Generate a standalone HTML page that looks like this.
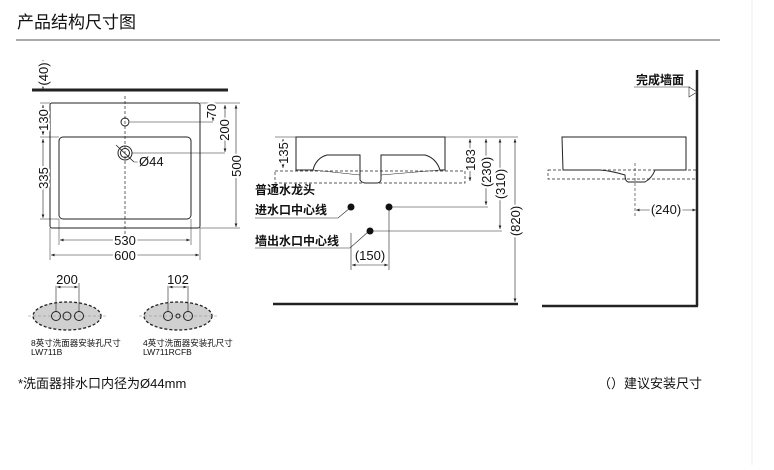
<!DOCTYPE html>
<html><head><meta charset="utf-8"><style>
body{margin:0;background:#fff;}
svg text{font-family:"Liberation Sans","Noto Sans CJK SC",sans-serif;fill:#111;}
.h{stroke:#fff;stroke-width:4;paint-order:stroke;stroke-linejoin:round;}
</style></head><body>
<svg width="774" height="465" viewBox="0 0 774 465" xmlns="http://www.w3.org/2000/svg">
<defs>
<marker id="a" viewBox="0 0 10 10" refX="10" refY="5" markerWidth="6" markerHeight="6" orient="auto-start-reverse"><path d="M0,1 L10,5 L0,9 z" fill="#222"/></marker>
</defs>
<text x="17" y="28" font-size="17">产品结构尺寸图</text>
<line x1="16" y1="40" x2="720" y2="40" stroke="#555" stroke-width="1"/>
<line x1="752" y1="0" x2="752" y2="465" stroke="#eee"/>

<g stroke="#222" fill="none" stroke-width="1">
<line x1="32" y1="90" x2="228" y2="90" stroke-width="3"/>
<rect x="50" y="103" width="150" height="125" rx="2"/>
<rect x="59" y="137" width="132" height="82" rx="4"/>
<line x1="125" y1="96" x2="125" y2="246" stroke-dasharray="3,2" stroke-width="0.7"/>
<circle cx="125" cy="122" r="4"/>
<circle cx="125" cy="153" r="7"/><circle cx="125" cy="153" r="4.5"/>
<line x1="116" y1="145" x2="134" y2="162" stroke-width="0.8"/>
<line x1="130" y1="122" x2="213" y2="122" stroke-width="0.5"/>
<line x1="132" y1="153" x2="225" y2="153" stroke-width="0.5"/>
<line x1="134" y1="162" x2="165" y2="162" stroke-width="0.6"/>
<line x1="43" y1="60" x2="43" y2="89" stroke-width="0.6" marker-end="url(#a)"/>
<line x1="43" y1="105" x2="43" y2="135" stroke-width="0.6" marker-start="url(#a)" marker-end="url(#a)"/>
<line x1="43" y1="139" x2="43" y2="218" stroke-width="0.6" marker-start="url(#a)" marker-end="url(#a)"/>
<line x1="40" y1="103" x2="50" y2="103" stroke-width="0.5"/>
<line x1="40" y1="137" x2="59" y2="137" stroke-width="0.5"/>
<line x1="40" y1="219" x2="59" y2="219" stroke-width="0.5"/>
<line x1="200" y1="103" x2="240" y2="103" stroke-width="0.5"/>
<line x1="200" y1="228" x2="240" y2="228" stroke-width="0.5"/>
<line x1="213" y1="105" x2="213" y2="121" stroke-width="0.6" marker-start="url(#a)" marker-end="url(#a)"/>
<line x1="225" y1="105" x2="225" y2="152" stroke-width="0.6" marker-start="url(#a)" marker-end="url(#a)"/>
<line x1="236" y1="105" x2="236" y2="227" stroke-width="0.6" marker-start="url(#a)" marker-end="url(#a)"/>
<line x1="59" y1="219" x2="59" y2="245" stroke-width="0.5"/>
<line x1="191" y1="219" x2="191" y2="245" stroke-width="0.5"/>
<line x1="50" y1="228" x2="50" y2="260" stroke-width="0.5"/>
<line x1="200" y1="228" x2="200" y2="260" stroke-width="0.5"/>
<line x1="60" y1="240" x2="190" y2="240" stroke-width="0.6" marker-start="url(#a)" marker-end="url(#a)"/>
<line x1="51" y1="255" x2="199" y2="255" stroke-width="0.6" marker-start="url(#a)" marker-end="url(#a)"/>

<line x1="275" y1="137" x2="518" y2="137" stroke-width="0.6"/>
<path d="M296,137 V170 H313 Q316,158 327,155 H360 V180 Q362,183 366,183 H377 Q380,183 381,180 V155 H425 Q436,158 440,170 H445 V137 Z"/>
<path d="M313,170 L360,175 M381,175 L440,170" stroke-width="0.6"/>
<rect x="275" y="171" width="190" height="12" stroke-dasharray="3,2" stroke-width="0.7"/>
<line x1="283" y1="139" x2="283" y2="168" stroke-width="0.6" marker-start="url(#a)" marker-end="url(#a)"/>
<line x1="470" y1="139" x2="470" y2="181" stroke-width="0.6" marker-start="url(#a)" marker-end="url(#a)"/>
<line x1="486" y1="139" x2="486" y2="205" stroke-width="0.6" marker-start="url(#a)" marker-end="url(#a)"/>
<line x1="500" y1="139" x2="500" y2="229" stroke-width="0.6" marker-start="url(#a)" marker-end="url(#a)"/>
<line x1="515" y1="139" x2="515" y2="302" stroke-width="0.6" marker-start="url(#a)" marker-end="url(#a)"/>
<line x1="273" y1="304" x2="518" y2="304" stroke-width="2.5"/>
<line x1="389" y1="207" x2="488" y2="207" stroke-width="0.6"/>
<line x1="370" y1="231" x2="502" y2="231" stroke-width="0.6"/>
<line x1="389" y1="207" x2="389" y2="270" stroke-width="0.6"/>
<line x1="351" y1="233" x2="351" y2="270" stroke-width="0.6"/>
<line x1="352" y1="265" x2="388" y2="265" stroke-width="0.6" marker-start="url(#a)" marker-end="url(#a)"/>
<path d="M255,218 H338 L350,208" stroke-width="0.6"/>
<path d="M255,248 H350 L368,232" stroke-width="0.6"/>

<line x1="697" y1="70" x2="697" y2="306" stroke-width="2.5"/>
<line x1="542" y1="306" x2="698" y2="306" stroke-width="2.5"/>
<path d="M562,137 H686 V170 H655 Q652,178 645,182 H628 Q625,181 625,175 Q612,171 600,170 H563 Z"/>
<rect x="548" y="170" width="149" height="9" stroke-dasharray="3,2" stroke-width="0.7"/>
<line x1="635" y1="163" x2="635" y2="218" stroke-dasharray="3,2" stroke-width="0.6"/>
<line x1="636" y1="210" x2="696" y2="210" stroke-width="0.6" marker-start="url(#a)" marker-end="url(#a)"/>
<line x1="634" y1="87" x2="690" y2="87" stroke-width="0.6"/>
<path d="M689,87 L697,92 L689,97 Z" fill="#fff" stroke-width="0.6"/>

<ellipse cx="67" cy="316" rx="34" ry="14" fill="#d0d0d0" stroke-dasharray="3,2" stroke-width="1.3"/>
<ellipse cx="178" cy="316" rx="34" ry="14" fill="#d0d0d0" stroke-dasharray="3,2" stroke-width="1.3"/>
<line x1="28" y1="316" x2="108" y2="316" stroke="#888" stroke-dasharray="3,2" stroke-width="0.6"/>
<line x1="139" y1="316" x2="219" y2="316" stroke="#888" stroke-dasharray="3,2" stroke-width="0.6"/>
<circle cx="56" cy="316" r="4.5"/><circle cx="67" cy="316" r="4"/><circle cx="79" cy="316" r="4.5"/>
<circle cx="168" cy="316" r="4.5"/><circle cx="178" cy="316" r="2"/><circle cx="188" cy="316" r="4.5"/>
<line x1="56" y1="283" x2="56" y2="312" stroke-width="0.6"/>
<line x1="79" y1="283" x2="79" y2="312" stroke-width="0.6"/>
<line x1="168" y1="283" x2="168" y2="312" stroke-width="0.6"/>
<line x1="188" y1="283" x2="188" y2="312" stroke-width="0.6"/>
<line x1="57" y1="287" x2="78" y2="287" stroke-width="0.6" marker-start="url(#a)" marker-end="url(#a)"/>
<line x1="169" y1="287" x2="187" y2="287" stroke-width="0.6" marker-start="url(#a)" marker-end="url(#a)"/>
</g>
<g fill="#111">
<circle cx="351" cy="207" r="3.5"/><circle cx="389" cy="207" r="3.5"/><circle cx="370" cy="231" r="3.5"/>
</g>

<g font-size="13" text-anchor="middle">
<text class="h" transform="translate(48,74) rotate(-90)">(40)</text>
<text class="h" transform="translate(48,120) rotate(-90)">130</text>
<text class="h" transform="translate(48,178) rotate(-90)">335</text>
<text class="h" transform="translate(216,111) rotate(-90)">70</text>
<text class="h" transform="translate(229,130) rotate(-90)">200</text>
<text class="h" transform="translate(241,166) rotate(-90)">500</text>
<text class="h" x="125" y="245">530</text>
<text class="h" x="125" y="260">600</text>
<text class="h" transform="translate(288,153) rotate(-90)">135</text>
<text class="h" transform="translate(475,160) rotate(-90)">183</text>
<text class="h" transform="translate(491,172) rotate(-90)">(230)</text>
<text class="h" transform="translate(505,184) rotate(-90)">(310)</text>
<text class="h" transform="translate(520,221) rotate(-90)">(820)</text>
<text class="h" x="370" y="260">(150)</text>
<text class="h" x="666" y="214">(240)</text>
<text class="h" x="67" y="284">200</text>
<text class="h" x="178" y="284">102</text>
</g>
<g font-size="13">
<text class="h" x="139" y="166">Ø44</text>
<text x="18" y="388">*洗面器排水口内径为Ø44mm</text>
<text x="598" y="388">（）建议安装尺寸</text>
</g>
<g font-size="12" font-weight="bold">
<text x="255" y="194">普通水龙头</text>
<text x="255" y="214">进水口中心线</text>
<text x="255" y="245">墙出水口中心线</text>
<text x="636" y="84">完成墙面</text>
</g>
<g font-size="8.5">
<text x="31" y="346">8英寸洗面器安装孔尺寸</text>
<text x="31" y="355">LW711B</text>
<text x="143" y="346">4英寸洗面器安装孔尺寸</text>
<text x="143" y="355">LW711RCFB</text>
</g>
</svg>
</body></html>
